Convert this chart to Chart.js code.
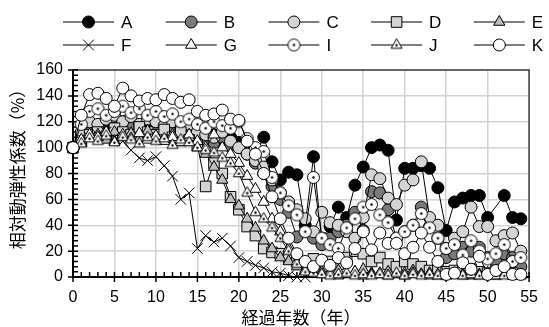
<!DOCTYPE html>
<html>
<head>
<meta charset="utf-8">
<script src="https://cdn.jsdelivr.net/npm/chart.js@4"></script>
<style>
  html, body { margin: 0; padding: 0; background: #fff; }
</style>
</head>
<body>
<canvas id="chart" width="549" height="327"></canvas>
<script>
// 経過年数
const years = [0,1,2,3,4,5,6,7,8,9,10,11,12,13,14,15,16,17,18,19,20,21,22,23,24,25,26,27,28,29,30,31,32,33,34,35,36,37,38,39,40,41,42,43,44,45,46,47,48,49,50,51,52,53,54,55];
const xTicks = [0,5,10,15,20,25,30,35,40,45,50,55];
const yTicks = [0,20,40,60,80,100,120,140,160];
const seriesNames = ['A','B','C','D','E','F','G','I','J','K'];

// 相対動弾性係数 (%)
const valuesA = [100,110,115,112,118,115,120,117,115,118,114,116,112,115,110,112,108,110,105,108,104,100,95,108,89,75,81,79,40,93,30,39,54,46,71,85,100,102,98,44,84,84,86,84,69,36,58,61,63,63,46,null,63,46,45,null];
const valuesB = [100,108,112,115,110,114,112,116,113,110,115,112,114,110,108,112,106,104,108,102,100,95,88,80,70,60,50,31,35,30,25,30,35,40,50,36,66,65,52,30,35,40,54,39,30,15,18,23,20,23,15,12,18,15,8,null];
const valuesC = [100,112,120,118,122,125,120,124,118,122,120,117,120,115,118,112,110,108,112,105,100,95,90,85,75,65,58,52,45,35,50,42,40,35,30,46,79,76,61,56,71,75,89,46,40,22,30,35,54,39,39,28,32,34,20,null];
const valuesD = [100,105,110,112,108,115,112,110,116,112,110,114,108,112,106,102,70,88,80,62,52,39,32,22,19,18,15,12,10,14,8,12,10,15,20,18,12,15,10,8,12,10,8,5,6,4,5,8,6,4,3,5,4,3,null,null];
const valuesE = [100,104,108,110,106,112,108,111,107,113,109,106,110,104,108,100,95,85,75,60,55,45,38,28,22,15,12,8,5,6,4,3,5,2,4,6,3,2,4,2,3,5,2,3,1,2,3,2,1,2,3,1,2,1,null,null];
const valuesF = [100,105,108,110,112,108,105,98,92,90,93,86,78,60,65,22,32,27,30,24,15,12,9,7,4,3,1,0,0,null,null,null,null,null,null,null,null,null,null,null,null,null,null,null,null,null,null,null,null,null,null,null,null,null,null,null];
const valuesG = [100,106,110,108,112,105,110,107,111,106,109,105,108,104,110,105,100,110,100,95,88,78,68,58,45,35,22,12,5,3,2,3,1,2,4,1,2,3,1,2,1,3,2,1,2,1,2,1,3,1,2,1,2,1,2,null];
const valuesI = [100,118,128,130,125,128,132,127,130,125,128,124,126,120,122,118,115,120,117,115,120,107,100,97,77,65,55,48,35,77,30,25,22,38,45,54,56,48,42,30,35,40,49,38,30,22,25,17,28,20,14,18,25,12,15,null];
const valuesJ = [100,103,107,105,109,104,108,106,103,108,105,107,102,106,104,100,98,96,92,88,80,65,50,45,38,30,20,10,4,3,2,1,2,3,1,2,1,2,1,3,1,2,1,2,1,1,2,1,2,1,2,1,1,2,1,null];
const valuesK = [100,125,141,142,138,132,146,140,136,138,137,141,138,135,137,128,125,126,129,122,121,105,95,80,62,45,30,18,12,8,13,9,15,11,22,35,21,34,26,26,18,23,34,23,12,2,3,11,6,16,2,5,8,2,2,null];

const allValues = [valuesA, valuesB, valuesC, valuesD, valuesE, valuesF, valuesG, valuesI, valuesJ, valuesK];

// 点入りマーカー (I, J)
function dotMarker(shape) {
  const c = document.createElement('canvas');
  c.width = 15; c.height = 15;
  const g = c.getContext('2d');
  g.fillStyle = '#fff';
  g.strokeStyle = '#000';
  g.lineWidth = 1;
  g.beginPath();
  if (shape === 'circle') {
    g.arc(7.5, 7.5, 6, 0, Math.PI * 2);
  } else {
    g.moveTo(7.5, 1.2); g.lineTo(13, 10.8); g.lineTo(2, 10.8); g.closePath();
  }
  g.fill(); g.stroke();
  g.fillStyle = '#000';
  g.beginPath();
  g.arc(7.5, shape === 'circle' ? 7.5 : 7.8, 1.2, 0, Math.PI * 2);
  g.fill();
  return c;
}

const markers = [
  { pointStyle: 'circle', backgroundColor: '#000000', radius: 6 },
  { pointStyle: 'circle', backgroundColor: '#7a7a7a', radius: 6 },
  { pointStyle: 'circle', backgroundColor: '#d4d4d4', radius: 6 },
  { pointStyle: 'rect', backgroundColor: '#d4d4d4', radius: 7.5 },
  { pointStyle: 'triangle', backgroundColor: '#bdbdbd', radius: 6.5 },
  { pointStyle: 'crossRot', backgroundColor: '#000000', radius: 7.5 },
  { pointStyle: 'triangle', backgroundColor: '#ffffff', radius: 6.5 },
  { pointStyle: dotMarker('circle'), backgroundColor: '#ffffff', radius: 6 },
  { pointStyle: dotMarker('triangle'), backgroundColor: '#ffffff', radius: 6.5 },
  { pointStyle: 'circle', backgroundColor: '#ffffff', radius: 6 },
];

const datasets = seriesNames.map((name, i) => ({
  label: name,
  data: allValues[i].map((v, k) => ({ x: years[k], y: v })),
  borderColor: '#000',
  borderWidth: 1,
  pointStyle: markers[i].pointStyle,
  pointRadius: markers[i].radius,
  pointBackgroundColor: markers[i].backgroundColor,
  pointBorderColor: '#000',
  pointBorderWidth: 1,
  spanGaps: true,
  clip: false,
  order: seriesNames.length - 1 - i,
}));

// 枠・目盛り
const frame = {
  id: 'frame',
  beforeDatasetsDraw(chart) {
    const { ctx, chartArea: a, scales: { x, y } } = chart;
    ctx.save();
    ctx.strokeStyle = '#404040';
    ctx.lineWidth = 1.5;
    ctx.strokeRect(a.left, a.top, a.right - a.left, a.bottom - a.top);
    ctx.strokeStyle = '#000';
    ctx.lineWidth = 2;
    ctx.beginPath();
    ctx.moveTo(a.left, a.top); ctx.lineTo(a.left, a.bottom); ctx.lineTo(a.right, a.bottom);
    ctx.stroke();
    ctx.lineWidth = 1.5;
    ctx.beginPath();
    for (let v = y.min; v <= y.max; v += 4) {
      const py = y.getPixelForValue(v);
      ctx.moveTo(v % 20 === 0 ? a.left - 5 : a.left, py);
      ctx.lineTo(a.left + 5, py);
    }
    for (let v = x.min; v <= x.max; v += 1) {
      const px = x.getPixelForValue(v);
      ctx.moveTo(px, v % 5 === 0 ? a.bottom + 5 : a.bottom);
      ctx.lineTo(px, a.bottom - 5);
    }
    ctx.stroke();
    ctx.restore();
  },
  afterDraw(chart) {
    const { ctx, chartArea: a } = chart;
    ctx.save();
    ctx.fillStyle = '#000';
    // 軸タイトル
    ctx.font = '17px "Noto Sans CJK JP"';
    ctx.textAlign = 'center';
    ctx.textBaseline = 'middle';
    ctx.fillText('経過年数（年）', (a.left + a.right) / 2, 318);
    ctx.translate(18, 165);
    ctx.rotate(-Math.PI / 2);
    ctx.fillText('相対動弾性係数（%）', 0, 0);
    ctx.restore();

    // 凡例
    ctx.save();
    ctx.font = '17px "Liberation Sans", Arial, sans-serif';
    ctx.textBaseline = 'middle';
    ctx.textAlign = 'left';
    seriesNames.forEach((name, i) => {
      const col = i % 5, row = Math.floor(i / 5);
      const x0 = 63 + col * 102.7;
      const yy = row === 0 ? 22 : 45;
      ctx.strokeStyle = '#000';
      ctx.lineWidth = 1;
      ctx.beginPath();
      ctx.moveTo(x0, yy); ctx.lineTo(x0 + 51, yy);
      ctx.stroke();
      ctx.fillStyle = markers[i].backgroundColor;
      ctx.strokeStyle = '#000';
      Chart.helpers.drawPoint(ctx, {
        pointStyle: markers[i].pointStyle,
        radius: markers[i].radius,
        borderWidth: 1,
        rotation: 0,
      }, x0 + 25.5, yy);
      ctx.fillStyle = '#000';
      ctx.fillText(name, x0 + 58, yy + 1);
    });
    ctx.restore();
  }
};

Chart.defaults.font.family = '"Liberation Sans", Arial, sans-serif';
Chart.defaults.color = '#000';

new Chart(document.getElementById('chart'), {
  type: 'line',
  data: { datasets },
  options: {
    responsive: false,
    animation: false,
    events: [],
    layout: { padding: { left: 0, top: 70, right: 12, bottom: 0 } },
    plugins: { legend: { display: false }, tooltip: { enabled: false } },
    scales: {
      x: {
        type: 'linear',
        min: 0, max: 55,
        afterFit(s) { s.height = 50; },
        afterBuildTicks(s) { s.ticks = xTicks.map(v => ({ value: v })); },
        grid: { color: '#d4d4d4', lineWidth: 1.5, drawTicks: false },
        border: { display: false },
        ticks: { font: { size: 16 }, padding: 11, maxRotation: 0 },
      },
      y: {
        min: 0, max: 160,
        afterFit(s) { s.width = 73; },
        afterBuildTicks(s) { s.ticks = yTicks.map(v => ({ value: v })); },
        grid: { color: '#d4d4d4', lineWidth: 1.5, drawTicks: false },
        border: { display: false },
        ticks: { font: { size: 16 }, padding: 10 },
      },
    },
  },
  plugins: [frame],
});
</script>
</body>
</html>
